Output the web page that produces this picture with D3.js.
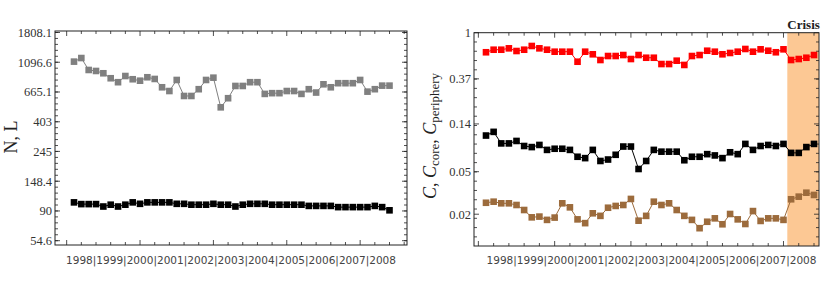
<!DOCTYPE html>
<html>
<head>
<meta charset="utf-8">
<script src="https://cdn.jsdelivr.net/npm/d3@7"></script>
<style>
  body { margin: 0; background: #fff; }
  svg { display: block; }
  .tick-label { font-family: "Liberation Serif", "Times New Roman", serif; font-size: 12.5px; fill: #333; }
  .year-label { font-family: "DejaVu Sans", sans-serif; font-size: 10.5px; fill: #444; }
</style>
</head>
<body>
<div id="chart"></div>
<script>
// quarters 1998Q1 .. 2008Q4
var quarters = d3.range(1, 45);
var years = ["1998", "1999", "2000", "2001", "2002", "2003", "2004", "2005", "2006", "2007", "2008"];

// left panel: N (grey) and L (black)
var seriesN = [1108, 1177, 963, 947, 911, 838, 784, 870, 824, 804, 852, 828, 720, 676, 814, 622,
  622, 697, 814, 846, 514, 599, 736, 736, 784, 784, 644, 652, 652, 676, 676, 644,
  697, 659, 757, 720, 771, 771, 771, 814, 669, 697, 740, 740];
var seriesL = [104, 101, 101, 101, 97, 100, 97, 100, 104, 101.5, 104, 104, 104, 104, 101.5, 101.5,
  100, 100, 100, 101.5, 100, 100, 97, 100, 101.5, 101.5, 101.5, 100, 100, 100, 100, 100,
  98, 98, 98, 98, 96, 96, 96, 96, 96, 98, 96, 91];
var leftTickValues = [54.6, 90, 148.4, 245, 403, 665.1, 1096.6, 1808.1];
var leftTickLabels = ["54.6", "90", "148.4", "245", "403", "665.1", "1096.6", "1808.1"];

// right panel: C_core (red), C (black), C_periphery (brown)
var seriesCore = [0.656, 0.693, 0.693, 0.714, 0.674, 0.693, 0.751, 0.714, 0.693, 0.664, 0.664, 0.664,
  0.535, 0.664, 0.628, 0.555, 0.605, 0.605, 0.618, 0.567, 0.618, 0.583, 0.583, 0.509,
  0.509, 0.547, 0.499, 0.605, 0.618, 0.678, 0.664, 0.628, 0.646, 0.664, 0.704, 0.664,
  0.699, 0.678, 0.656, 0.699, 0.555, 0.567, 0.583, 0.618];
var seriesC = [0.109, 0.118, 0.092, 0.092, 0.097, 0.087, 0.085, 0.089, 0.080, 0.082, 0.082, 0.080,
  0.069, 0.067, 0.080, 0.063, 0.065, 0.072, 0.086, 0.086, 0.053, 0.063, 0.080, 0.077,
  0.077, 0.077, 0.064, 0.069, 0.069, 0.073, 0.071, 0.067, 0.076, 0.073, 0.091, 0.080,
  0.087, 0.089, 0.087, 0.091, 0.075, 0.075, 0.085, 0.091];
var seriesPeriphery = [0.0256, 0.0262, 0.0253, 0.0253, 0.0244, 0.0219, 0.0187, 0.0190, 0.0177, 0.0186,
  0.0253, 0.0232, 0.0179, 0.0165, 0.0204, 0.0193, 0.0230, 0.0239, 0.0244, 0.0278,
  0.0174, 0.0193, 0.0262, 0.0244, 0.0253, 0.0219, 0.0193, 0.0177, 0.0148, 0.0170,
  0.0183, 0.0161, 0.0201, 0.0179, 0.0162, 0.0214, 0.0173, 0.0183, 0.0183, 0.0177,
  0.0276, 0.0292, 0.0318, 0.0303];
var rightTickValues = [0.02, 0.05, 0.14, 0.37, 1];
var rightTickLabels = ["0.02", "0.05", "0.14", "0.37", "1"];
var crisisStart = 40.5;

var svg = d3.select("#chart").append("svg").attr("width", 822).attr("height", 303);

function drawPanel(opt) {
  var g = svg.append("g");
  var x = d3.scaleLinear().domain([1, 44]).range(opt.xRange);
  var y = d3.scaleLog().domain(opt.yDomain).range(opt.yRange);
  var f = opt.frame;

  if (opt.crisis) {
    g.append("rect")
      .attr("x", x(opt.crisis)).attr("y", f.top)
      .attr("width", f.right - x(opt.crisis)).attr("height", f.bottom - f.top)
      .attr("fill", "#fcc894");
    g.append("text")
      .attr("x", x(opt.crisis)).attr("y", 29)
      .attr("font-family", "Liberation Serif, serif").attr("font-weight", "bold")
      .attr("font-size", "13px").attr("fill", "#222")
      .text("Crisis");
  }

  // x ticks, every two quarters, longer every ten
  var xt = d3.range(0, 47, 2).filter(function(d) { return x(d) > f.left + 1 && x(d) < f.right - 1; });
  xt.forEach(function(d) {
    var len = d % 10 === 0 ? 5 : 3;
    g.append("line").attr("x1", x(d)).attr("x2", x(d)).attr("y1", f.bottom).attr("y2", f.bottom - len)
      .attr("stroke", "#222").attr("stroke-width", 0.8);
    g.append("line").attr("x1", x(d)).attr("x2", x(d)).attr("y1", f.top).attr("y2", f.top + len)
      .attr("stroke", "#222").attr("stroke-width", 0.8);
  });

  // y ticks on log scale
  var minor = d3.range(Math.ceil((Math.log(y.invert(f.bottom))) / opt.minorStep) * opt.minorStep,
                       Math.log(y.invert(f.top)), opt.minorStep);
  minor.forEach(function(k) {
    var yy = y(Math.exp(k));
    if (yy > f.bottom || yy < f.top) return;
    g.append("line").attr("x1", f.left).attr("x2", f.left + 3).attr("y1", yy).attr("y2", yy)
      .attr("stroke", "#222").attr("stroke-width", 0.8);
    g.append("line").attr("x1", f.right).attr("x2", f.right - 3).attr("y1", yy).attr("y2", yy)
      .attr("stroke", "#222").attr("stroke-width", 0.8);
  });
  opt.tickValues.forEach(function(v, i) {
    var yy = y(v);
    g.append("line").attr("x1", f.left).attr("x2", f.left + 5).attr("y1", yy).attr("y2", yy)
      .attr("stroke", "#222").attr("stroke-width", 0.8);
    g.append("line").attr("x1", f.right).attr("x2", f.right - 5).attr("y1", yy).attr("y2", yy)
      .attr("stroke", "#222").attr("stroke-width", 0.8);
    g.append("text").attr("class", "tick-label")
      .attr("x", f.left - 3).attr("y", yy).attr("dy", "0.35em")
      .attr("text-anchor", "end").text(opt.tickLabels[i]);
  });

  // series
  var line = d3.line().x(function(d, i) { return x(quarters[i]); }).y(function(d) { return y(d); });
  opt.series.forEach(function(s) {
    g.append("path").datum(s.values).attr("d", line)
      .attr("fill", "none").attr("stroke", s.color).attr("stroke-width", 1);
    g.selectAll(null).data(s.values).enter().append("rect")
      .attr("x", function(d, i) { return x(quarters[i]) - 3.3; })
      .attr("y", function(d) { return y(d) - 3.3; })
      .attr("width", 6.6).attr("height", 6.6)
      .attr("fill", s.color);
  });

  // frame
  g.append("rect").attr("x", f.left).attr("y", f.top)
    .attr("width", f.right - f.left).attr("height", f.bottom - f.top)
    .attr("fill", "none").attr("stroke", "#222").attr("stroke-width", 1);

  g.append("text").attr("class", "year-label")
    .attr("x", opt.yearX).attr("y", 264).attr("text-anchor", "middle")
    .attr("textLength", 330).attr("lengthAdjust", "spacingAndGlyphs")
    .text(years.join("|"));
  return g;
}

drawPanel({
  frame: { left: 55, right: 407, top: 31, bottom: 245 },
  xRange: [74, 389.5],
  yDomain: [Math.exp(4), Math.exp(7.5)],
  yRange: [240.7, 32.5],
  minorStep: 0.1,
  tickValues: leftTickValues,
  tickLabels: leftTickLabels,
  yearX: 231,
  series: [
    { values: seriesN, color: "#808080" },
    { values: seriesL, color: "#000" }
  ]
});

drawPanel({
  frame: { left: 474, right: 819, top: 32.7, bottom: 246 },
  xRange: [486, 814],
  yDomain: [Math.exp(-4), 1],
  yRange: [218.3, 32.7],
  minorStep: 0.2,
  tickValues: rightTickValues,
  tickLabels: rightTickLabels,
  yearX: 651.5,
  crisis: crisisStart,
  series: [
    { values: seriesCore, color: "#ff0000" },
    { values: seriesC, color: "#000" },
    { values: seriesPeriphery, color: "#9c6b3c" }
  ]
});

// axis titles
svg.append("text")
  .attr("transform", "translate(17,137) rotate(-90)")
  .attr("text-anchor", "middle")
  .attr("font-family", "Liberation Serif, serif").attr("font-size", "18px").attr("fill", "#222")
  .text("N, L");

var rt = svg.append("text")
  .attr("transform", "translate(436,136) rotate(-90)")
  .attr("text-anchor", "middle")
  .attr("font-family", "Liberation Serif, serif").attr("font-size", "18px").attr("fill", "#222");
rt.append("tspan").attr("font-style", "italic").text("C");
rt.append("tspan").text(", ");
rt.append("tspan").attr("font-style", "italic").text("C");
rt.append("tspan").attr("font-size", "13px").attr("dy", 3).text("core");
rt.append("tspan").attr("dy", -3).text(", ");
rt.append("tspan").attr("font-style", "italic").text("C");
rt.append("tspan").attr("font-size", "13px").attr("dy", 3).text("periphery");
</script>
</body>
</html>
